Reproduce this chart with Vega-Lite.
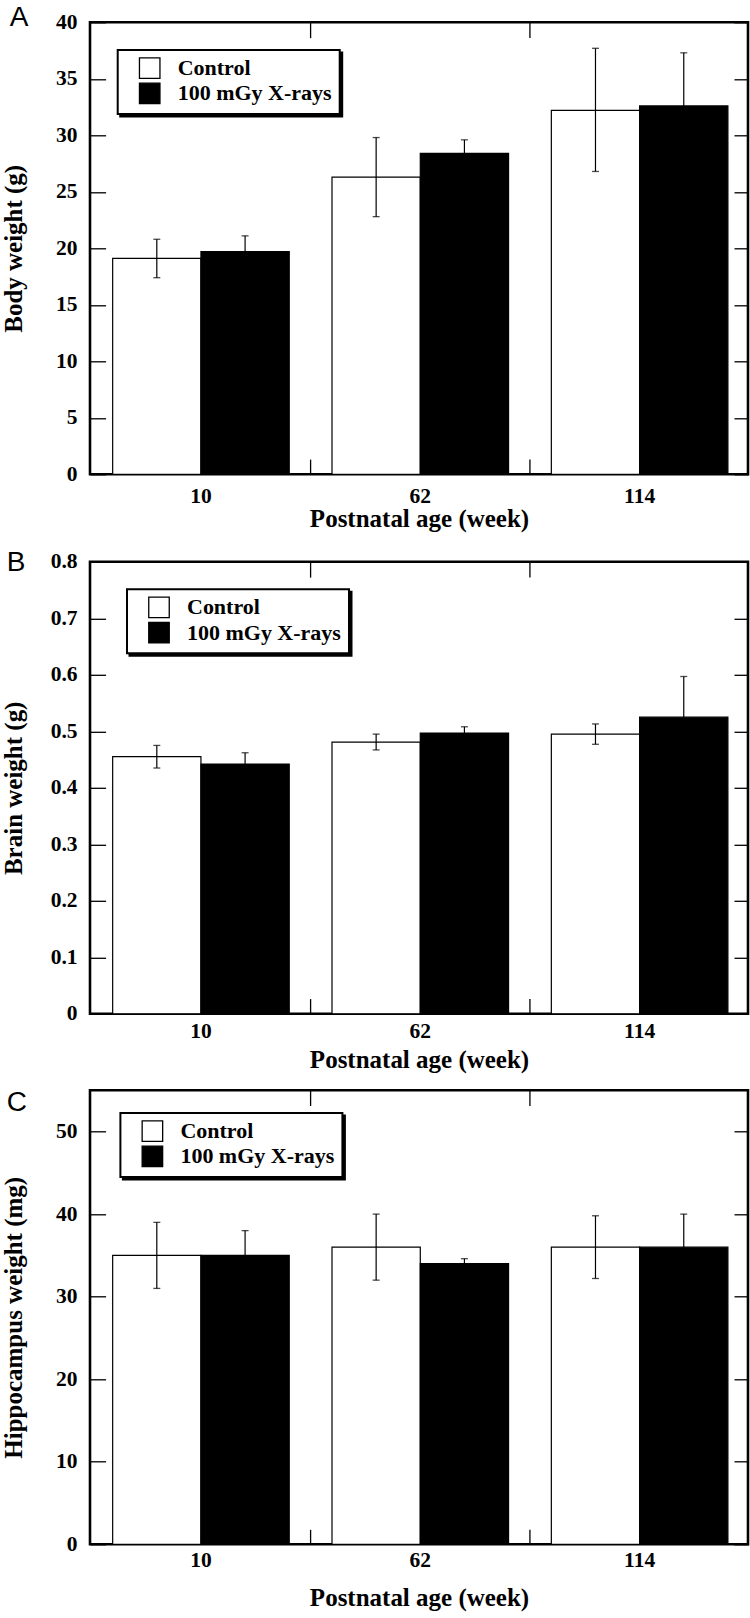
{
  "$schema": "https://vega.github.io/schema/vega-lite/v6.json",
  "padding": {"left": 0, "top": 2.3, "right": 2, "bottom": 0},
  "background": "white",
  "datasets": {
    "A": [
      {"week": 10, "group": "Control", "mean": 19.1, "lo": 17.4, "hi": 20.8},
      {"week": 10, "group": "100 mGy X-rays", "mean": 19.7, "lo": 18.3, "hi": 21.1},
      {"week": 62, "group": "Control", "mean": 26.3, "lo": 22.8, "hi": 29.8},
      {"week": 62, "group": "100 mGy X-rays", "mean": 28.4, "lo": 27.2, "hi": 29.6},
      {"week": 114, "group": "Control", "mean": 32.2, "lo": 26.8, "hi": 37.7},
      {"week": 114, "group": "100 mGy X-rays", "mean": 32.6, "lo": 27.9, "hi": 37.3}
    ],
    "B": [
      {"week": 10, "group": "Control", "mean": 0.455, "lo": 0.435, "hi": 0.475},
      {"week": 10, "group": "100 mGy X-rays", "mean": 0.442, "lo": 0.423, "hi": 0.462},
      {"week": 62, "group": "Control", "mean": 0.481, "lo": 0.467, "hi": 0.495},
      {"week": 62, "group": "100 mGy X-rays", "mean": 0.497, "lo": 0.486, "hi": 0.508},
      {"week": 114, "group": "Control", "mean": 0.495, "lo": 0.477, "hi": 0.513},
      {"week": 114, "group": "100 mGy X-rays", "mean": 0.525, "lo": 0.453, "hi": 0.597}
    ],
    "C": [
      {"week": 10, "group": "Control", "mean": 35, "lo": 31, "hi": 39},
      {"week": 10, "group": "100 mGy X-rays", "mean": 35, "lo": 32, "hi": 38},
      {"week": 62, "group": "Control", "mean": 36, "lo": 32, "hi": 40},
      {"week": 62, "group": "100 mGy X-rays", "mean": 34, "lo": 33.4, "hi": 34.6},
      {"week": 114, "group": "Control", "mean": 36, "lo": 32.2, "hi": 39.8},
      {"week": 114, "group": "100 mGy X-rays", "mean": 36, "lo": 32, "hi": 40}
    ]
  },
  "spacing": 13.5,
  "vconcat": [
    {
      "data": {"name": "A"},
      "width": 658,
      "height": 452,
      "title": {"text": "A", "anchor": "start", "font": "Liberation Sans", "fontSize": 28, "fontWeight": "normal", "color": "black", "offset": -21, "dx": 8},
      "layer": [
        {
          "mark": {"type": "bar", "stroke": "black", "strokeWidth": 1.2},
          "encoding": {
            "x": {"field": "week", "type": "ordinal", "sort": [10, 62, 114], "scale": {"paddingInner": 0.195, "paddingOuter": 0.0975, "align": 0.53},
                  "axis": {"orient": "bottom", "ticks": false, "labelAngle": 0, "labelPadding": 11.7, "title": "Postnatal age (week)", "titlePadding": -0.5}},
            "xOffset": {"field": "group", "type": "nominal", "sort": ["Control", "100 mGy X-rays"], "scale": {"paddingInner": 0, "paddingOuter": 0}},
            "y": {"field": "mean", "type": "quantitative", "scale": {"domain": [0, 40], "nice": false},
                  "axis": {"orient": "left", "values": [0, 5, 10, 15, 20, 25, 30, 35, 40], "ticks": false, "labelPadding": 13, "title": "Body weight (g)", "titlePadding": 28.8, "format": "d"}},
            "fill": {"field": "group", "type": "nominal", "scale": {"domain": ["Control", "100 mGy X-rays"], "range": ["white", "black"]},
                     "legend": {"orient": "none", "legendX": 27.7, "legendY": 27.7, "title": null}}
          }
        },
        {
          "mark": {"type": "rule", "strokeWidth": 1.2},
          "encoding": {
            "x": {"field": "week", "type": "ordinal", "sort": [10, 62, 114]},
            "xOffset": {"field": "group", "type": "nominal", "sort": ["Control", "100 mGy X-rays"]},
            "y": {"field": "lo", "type": "quantitative", "axis": null},
            "y2": {"field": "hi"},
            "stroke": {"field": "group", "type": "nominal", "scale": {"range": ["black", "black"]},
                       "legend": {"orient": "none", "legendX": 30.2, "legendY": 30.2, "title": null, "fillColor": "black", "symbolFillColor": "black", "labelExpr": "''", "labelOffset": 171, "zindex": 1}}
          }
        },
        {
          "mark": {"type": "tick", "color": "black", "size": 7, "thickness": 1.3},
          "encoding": {
            "x": {"field": "week", "type": "ordinal", "sort": [10, 62, 114]},
            "xOffset": {"field": "group", "type": "nominal", "sort": ["Control", "100 mGy X-rays"]},
            "y": {"field": "hi", "type": "quantitative", "axis": {"orient": "right", "values": [0, 5, 10, 15, 20, 25, 30, 35, 40], "tickSize": -14, "labels": false, "title": null}}
          }
        },
        {
          "mark": {"type": "tick", "color": "black", "size": 7, "thickness": 1.3},
          "encoding": {
            "x": {"field": "week", "type": "ordinal", "sort": [10, 62, 114]},
            "xOffset": {"field": "group", "type": "nominal", "sort": ["Control", "100 mGy X-rays"]},
            "y": {"field": "lo", "type": "quantitative", "axis": {"orient": "left", "values": [0, 5, 10, 15, 20, 25, 30, 35, 40], "tickSize": -15.6, "labels": false, "title": null}}
          }
        },
        {
          "transform": [{"filter": "datum.group === 'Control' && datum.week !== 114"}],
          "mark": {"type": "rule", "stroke": "black", "strokeWidth": 1.3},
          "encoding": {
            "x": {"field": "week", "type": "ordinal", "sort": [10, 62, 114], "bandPosition": 1.121},
            "y": {"datum": 0, "axis": null},
            "y2": {"datum": 1.3}
          }
        },
        {
          "transform": [{"filter": "datum.group === 'Control' && datum.week !== 114"}],
          "mark": {"type": "rule", "stroke": "black", "strokeWidth": 1.3},
          "encoding": {
            "x": {"field": "week", "type": "ordinal", "sort": [10, 62, 114], "bandPosition": 1.121},
            "y": {"datum": 40, "axis": null},
            "y2": {"datum": 38.6}
          }
        }
      ],
      "resolve": {"axis": {"y": "independent"}}
    },
    {
      "data": {"name": "B"},
      "width": 658,
      "height": 452,
      "title": {"text": "B", "anchor": "start", "font": "Liberation Sans", "fontSize": 28, "fontWeight": "normal", "color": "black", "offset": -26, "dx": 5},
      "layer": [
        {
          "mark": {"type": "bar", "stroke": "black", "strokeWidth": 1.2},
          "encoding": {
            "x": {"field": "week", "type": "ordinal", "sort": [10, 62, 114], "scale": {"paddingInner": 0.195, "paddingOuter": 0.0975, "align": 0.53},
                  "axis": {"orient": "bottom", "ticks": false, "labelAngle": 0, "labelPadding": 6.9, "title": "Postnatal age (week)", "titlePadding": 5}},
            "xOffset": {"field": "group", "type": "nominal", "sort": ["Control", "100 mGy X-rays"], "scale": {"paddingInner": 0, "paddingOuter": 0}},
            "y": {"field": "mean", "type": "quantitative", "scale": {"domain": [0, 0.8], "nice": false},
                  "axis": {"orient": "left", "values": [0, 0.1, 0.2, 0.3, 0.4, 0.5, 0.6, 0.7, 0.8], "ticks": false, "labelPadding": 13, "title": "Brain weight (g)", "titlePadding": 23.4, "format": ".1~f"}},
            "fill": {"field": "group", "type": "nominal", "scale": {"domain": ["Control", "100 mGy X-rays"], "range": ["white", "black"]},
                     "legend": {"orient": "none", "legendX": 37, "legendY": 27.5, "title": null}}
          }
        },
        {
          "mark": {"type": "rule", "strokeWidth": 1.2},
          "encoding": {
            "x": {"field": "week", "type": "ordinal", "sort": [10, 62, 114]},
            "xOffset": {"field": "group", "type": "nominal", "sort": ["Control", "100 mGy X-rays"]},
            "y": {"field": "lo", "type": "quantitative", "axis": null},
            "y2": {"field": "hi"},
            "stroke": {"field": "group", "type": "nominal", "scale": {"range": ["black", "black"]},
                       "legend": {"orient": "none", "legendX": 39.5, "legendY": 30, "title": null, "fillColor": "black", "symbolFillColor": "black", "labelExpr": "''", "labelOffset": 171, "zindex": 1}}
          }
        },
        {
          "mark": {"type": "tick", "color": "black", "size": 7, "thickness": 1.3},
          "encoding": {
            "x": {"field": "week", "type": "ordinal", "sort": [10, 62, 114]},
            "xOffset": {"field": "group", "type": "nominal", "sort": ["Control", "100 mGy X-rays"]},
            "y": {"field": "hi", "type": "quantitative", "axis": {"orient": "right", "values": [0, 0.1, 0.2, 0.3, 0.4, 0.5, 0.6, 0.7, 0.8], "tickSize": -14, "labels": false, "title": null}}
          }
        },
        {
          "mark": {"type": "tick", "color": "black", "size": 7, "thickness": 1.3},
          "encoding": {
            "x": {"field": "week", "type": "ordinal", "sort": [10, 62, 114]},
            "xOffset": {"field": "group", "type": "nominal", "sort": ["Control", "100 mGy X-rays"]},
            "y": {"field": "lo", "type": "quantitative", "axis": {"orient": "left", "values": [0, 0.1, 0.2, 0.3, 0.4, 0.5, 0.6, 0.7, 0.8], "tickSize": -15.6, "labels": false, "title": null}}
          }
        },
        {
          "transform": [{"filter": "datum.group === 'Control' && datum.week !== 114"}],
          "mark": {"type": "rule", "stroke": "black", "strokeWidth": 1.3},
          "encoding": {
            "x": {"field": "week", "type": "ordinal", "sort": [10, 62, 114], "bandPosition": 1.121},
            "y": {"datum": 0, "axis": null},
            "y2": {"datum": 0.026}
          }
        },
        {
          "transform": [{"filter": "datum.group === 'Control' && datum.week !== 114"}],
          "mark": {"type": "rule", "stroke": "black", "strokeWidth": 1.3},
          "encoding": {
            "x": {"field": "week", "type": "ordinal", "sort": [10, 62, 114], "bandPosition": 1.121},
            "y": {"datum": 0.8, "axis": null},
            "y2": {"datum": 0.772}
          }
        }
      ],
      "resolve": {"axis": {"y": "independent"}}
    },
    {
      "data": {"name": "C"},
      "width": 658,
      "height": 454,
      "title": {"text": "C", "anchor": "start", "font": "Liberation Sans", "fontSize": 28, "fontWeight": "normal", "color": "black", "offset": -27.8, "dx": 5},
      "layer": [
        {
          "mark": {"type": "bar", "stroke": "black", "strokeWidth": 1.2},
          "encoding": {
            "x": {"field": "week", "type": "ordinal", "sort": [10, 62, 114], "scale": {"paddingInner": 0.195, "paddingOuter": 0.0975, "align": 0.53},
                  "axis": {"orient": "bottom", "ticks": false, "labelAngle": 0, "labelPadding": 4.9, "title": "Postnatal age (week)", "titlePadding": 15}},
            "xOffset": {"field": "group", "type": "nominal", "sort": ["Control", "100 mGy X-rays"], "scale": {"paddingInner": 0, "paddingOuter": 0}},
            "y": {"field": "mean", "type": "quantitative", "scale": {"domain": [0, 55], "nice": false},
                  "axis": {"orient": "left", "values": [0, 10, 20, 30, 40, 50], "ticks": false, "labelPadding": 13, "title": "Hippocampus weight (mg)", "titlePadding": 28.8, "format": "d"}},
            "fill": {"field": "group", "type": "nominal", "scale": {"domain": ["Control", "100 mGy X-rays"], "range": ["white", "black"]},
                     "legend": {"orient": "none", "legendX": 30.4, "legendY": 22.7, "title": null}}
          }
        },
        {
          "mark": {"type": "rule", "strokeWidth": 1.2},
          "encoding": {
            "x": {"field": "week", "type": "ordinal", "sort": [10, 62, 114]},
            "xOffset": {"field": "group", "type": "nominal", "sort": ["Control", "100 mGy X-rays"]},
            "y": {"field": "lo", "type": "quantitative", "axis": null},
            "y2": {"field": "hi"},
            "stroke": {"field": "group", "type": "nominal", "scale": {"range": ["black", "black"]},
                       "legend": {"orient": "none", "legendX": 32.9, "legendY": 25.2, "title": null, "fillColor": "black", "symbolFillColor": "black", "labelExpr": "''", "labelOffset": 171, "zindex": 1}}
          }
        },
        {
          "mark": {"type": "tick", "color": "black", "size": 7, "thickness": 1.3},
          "encoding": {
            "x": {"field": "week", "type": "ordinal", "sort": [10, 62, 114]},
            "xOffset": {"field": "group", "type": "nominal", "sort": ["Control", "100 mGy X-rays"]},
            "y": {"field": "hi", "type": "quantitative", "axis": {"orient": "right", "values": [0, 10, 20, 30, 40, 50], "tickSize": -14, "labels": false, "title": null}}
          }
        },
        {
          "mark": {"type": "tick", "color": "black", "size": 7, "thickness": 1.3},
          "encoding": {
            "x": {"field": "week", "type": "ordinal", "sort": [10, 62, 114]},
            "xOffset": {"field": "group", "type": "nominal", "sort": ["Control", "100 mGy X-rays"]},
            "y": {"field": "lo", "type": "quantitative", "axis": {"orient": "left", "values": [0, 10, 20, 30, 40, 50], "tickSize": -15.6, "labels": false, "title": null}}
          }
        },
        {
          "transform": [{"filter": "datum.group === 'Control' && datum.week !== 114"}],
          "mark": {"type": "rule", "stroke": "black", "strokeWidth": 1.3},
          "encoding": {
            "x": {"field": "week", "type": "ordinal", "sort": [10, 62, 114], "bandPosition": 1.121},
            "y": {"datum": 0, "axis": null},
            "y2": {"datum": 1.75}
          }
        },
        {
          "transform": [{"filter": "datum.group === 'Control' && datum.week !== 114"}],
          "mark": {"type": "rule", "stroke": "black", "strokeWidth": 1.3},
          "encoding": {
            "x": {"field": "week", "type": "ordinal", "sort": [10, 62, 114], "bandPosition": 1.121},
            "y": {"datum": 55, "axis": null},
            "y2": {"datum": 53.1}
          }
        }
      ],
      "resolve": {"axis": {"y": "independent"}}
    }
  ],
  "resolve": {
    "scale": {"y": "independent", "fill": "independent", "stroke": "independent", "x": "independent", "xOffset": "independent"},
    "legend": {"fill": "independent", "stroke": "independent"}
  },
  "config": {
    "view": {"stroke": "black", "strokeWidth": 2.6},
    "axis": {
      "domain": false, "grid": false,
      "labelFont": "Liberation Serif", "labelFontWeight": "bold", "labelFontSize": 21.5, "labelColor": "black",
      "titleFont": "Liberation Serif", "titleFontWeight": "bold", "titleFontSize": 25, "titleColor": "black",
      "tickColor": "black", "tickWidth": 1.3
    },
    "legend": {
      "symbolType": "square", "symbolSize": 420, "symbolStrokeColor": "black", "symbolStrokeWidth": 1.3,
      "labelFont": "Liberation Serif", "labelFontWeight": "bold", "labelFontSize": 22, "labelColor": "black",
      "labelOffset": 17, "strokeColor": "black", "strokeWidth": 2, "fillColor": "white",
      "padding": 7.1, "symbolOffset": 13.9, "rowPadding": -0.7, "zindex": 2
    }
  }
}
